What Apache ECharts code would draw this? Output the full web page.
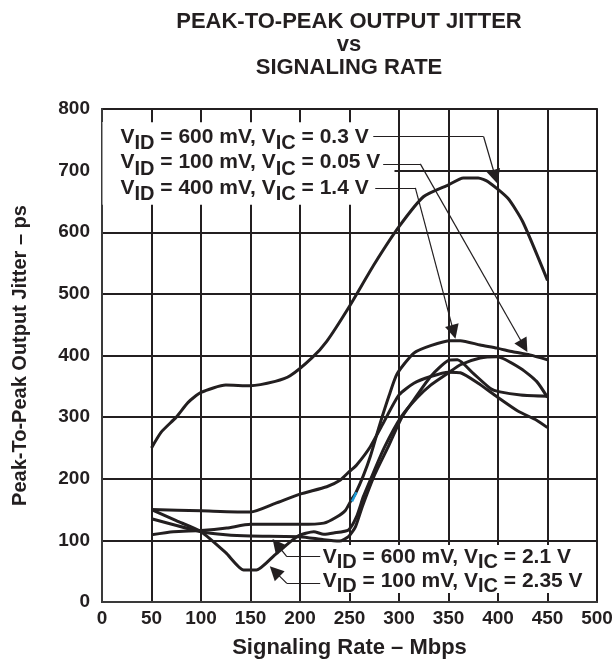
<!DOCTYPE html>
<html>
<head>
<meta charset="utf-8">
<script src="https://cdn.jsdelivr.net/npm/echarts@6/dist/echarts.min.js"></script>
<style>
html, body { margin: 0; padding: 0; background: #fff; }
#chart { width: 616px; height: 666px; }
</style>
</head>
<body>
<div id="chart"></div>
<script>
// axis ranges
const rateMin = 0, rateMax = 500, rateStep = 50;
const jitterMin = 0, jitterMax = 800, jitterStep = 100;

// curves: [Mbps, ps]
const vid600_vic03 = [[50,250],[60,276],[75,300],[87,324],[100,340],[125,352],[150,351],[175,358],[190,367],[212,396],[227,423],[250,480],[275,548],[300,609],[325,658],[350,677],[365,688],[380,688],[390,682],[410,655],[425,617],[450,522]];
const vid400_vic14 = [[50,109],[72,114],[100,116],[126,120],[150,126],[200,126],[224,128],[237,138],[246,149],[252,166],[256,176],[264,205],[271,236],[280,285],[290,335],[298,370],[315,404],[332,416],[352,424],[362,424],[382,417],[399,412],[415,406],[432,401],[450,393]];
const vid100_vic005 = [[50,150],[100,148],[150,146],[175,160],[200,175],[227,187],[240,197],[250,212],[257,222],[271,252],[284,290],[300,336],[315,355],[332,366],[350,373],[362,372],[380,355],[399,333],[420,310],[439,295],[450,283]];
const vid600_vic21 = [[50,135],[100,114],[125,109],[150,107],[200,106],[224,101],[240,99],[249,106],[256,122],[263,155],[275,205],[290,255],[303,300],[315,328],[332,366],[350,392],[359,393],[375,371],[392,347],[402,341],[423,336],[450,334]];
const vid100_vic235 = [[50,150],[75,132],[100,114],[125,80],[143,52],[156,52],[175,77],[198,107],[214,114],[224,110],[234,112],[249,117],[257,138],[264,171],[271,198],[285,250],[302,300],[318,331],[332,352],[350,372],[362,385],[382,396],[399,398],[423,379],[439,358],[450,332]];
const blueTick = [[252.5,163],[257,178]];

// annotation texts
const titleLines = ['PEAK-TO-PEAK OUTPUT JITTER', 'vs', 'SIGNALING RATE'];
const upperNotes = [['600 mV', '0.3 V'], ['100 mV', '0.05 V'], ['400 mV', '1.4 V']];
const lowerNotes = [['600 mV', '2.1 V'], ['100 mV', '2.35 V']];

// leader lines: [text end, elbow, arrow end] in data units
const leader03 = [[274, 755], [385.5, 755], [397.3, 690]];
const leader005 = [[284, 711], [321.5, 711], [426.2, 415.4]];
const leader14 = [[276, 672], [316.5, 672], [355.2, 438.3]];
const leader21 = [[220.4, 73.5], [186.7, 73.5], [176.7, 93.5]];
const leader235 = [[220.4, 30.3], [186.7, 30.3], [174.5, 49.8]];

const ink = '#231f20';
const fontFam = '"Liberation Sans", Arial, sans-serif';

const noteLine = (n) => '{m|V}{s|ID}{m| = ' + n[0] + ', V}{s|IC}{m| = ' + n[1] + '}';

const richNote = {
    m: { fontSize: 21, fontWeight: 'bold', fontFamily: fontFam, color: ink },
    s: { fontSize: 20, fontWeight: 'bold', fontFamily: fontFam, color: ink, height: 12, verticalAlign: 'bottom' }
};

const leaderSegs = (pts) => [
    [{ coord: pts[0], symbol: 'none' }, { coord: pts[1], symbol: 'none' }],
    [{ coord: pts[1], symbol: 'none' }, { coord: pts[2], symbol: 'triangle', symbolSize: 14 }]
];

const curve = (name, data) => ({
    name: name,
    type: 'line',
    data: data,
    smooth: 0.2,
    symbol: 'none',
    lineStyle: { color: ink, width: 3 },
    z: 2
});

// invisible anchor carrying a white-backed text block
const noteBox = (name, at, label) => ({
    name: name,
    type: 'scatter',
    data: [at],
    symbolSize: 1,
    itemStyle: { color: '#fff', opacity: 1 },
    silent: true,
    z: 1,
    label: Object.assign({
        show: true,
        opacity: 1,
        backgroundColor: '#fff',
        rich: richNote
    }, label)
});

var chart = echarts.init(document.getElementById('chart'));

chart.setOption({
    animation: false,
    backgroundColor: '#fff',
    textStyle: { fontFamily: fontFam },
    graphic: [{
        type: 'text',
        x: 349,
        y: 10,
        style: {
            text: titleLines.join('\n'),
            align: 'center',
            verticalAlign: 'top',
            fontSize: 22,
            fontWeight: 'bold',
            fontFamily: fontFam,
            lineHeight: 23,
            fill: ink
        }
    }],
    grid: {
        left: 102, right: 19, top: 109, bottom: 64,
        show: true, borderColor: '#3a3a3a', borderWidth: 2
    },
    xAxis: {
        type: 'value',
        min: rateMin, max: rateMax, interval: rateStep,
        name: 'Signaling Rate – Mbps',
        nameLocation: 'middle',
        nameGap: 35,
        nameTextStyle: { fontSize: 22, fontWeight: 'bold', color: ink },
        axisLine: { show: true, lineStyle: { color: '#3a3a3a', width: 2 } },
        axisTick: { show: false },
        axisLabel: { fontSize: 19, fontWeight: 'bold', color: ink, margin: 7 },
        splitLine: { show: true, lineStyle: { color: ink, width: 2 } }
    },
    yAxis: {
        type: 'value',
        min: jitterMin, max: jitterMax, interval: jitterStep,
        name: 'Peak-To-Peak Output Jitter – ps',
        nameLocation: 'middle',
        nameGap: 72,
        nameTextStyle: { fontSize: 20, fontWeight: 'bold', color: ink },
        axisLine: { show: true, lineStyle: { color: '#3a3a3a', width: 2 } },
        axisTick: { show: false },
        axisLabel: { fontSize: 19, fontWeight: 'bold', color: ink, margin: 12 },
        splitLine: { show: true, lineStyle: { color: ink, width: 2 } }
    },
    series: [
        noteBox('upper notes', [1, 777.6], {
            position: [0, 0],
            formatter: upperNotes.map(noteLine).join('\n'),
            padding: [2, 0, 4, 18],
            width: 274,
            lineHeight: 25.5
        }),
        noteBox('lower notes', [219.4, 53.6], {
            position: 'right',
            distance: 0,
            formatter: lowerNotes.map(noteLine).join('\n'),
            padding: [0, 3, 0, 3],
            lineHeight: 24
        }),
        curve('VID 600 mV, VIC 0.3 V', vid600_vic03),
        curve('VID 400 mV, VIC 1.4 V', vid400_vic14),
        curve('VID 100 mV, VIC 0.05 V', vid100_vic005),
        curve('VID 600 mV, VIC 2.1 V', vid600_vic21),
        curve('VID 100 mV, VIC 2.35 V', vid100_vic235),
        {
            name: 'blue tick',
            type: 'line',
            data: blueTick,
            symbol: 'none',
            lineStyle: { color: '#1b9ad6', width: 2.5 },
            z: 3
        },
        {
            name: 'leaders',
            type: 'line',
            data: [],
            z: 4,
            markLine: {
                silent: true,
                animation: false,
                symbol: ['none', 'none'],
                label: { show: false },
                lineStyle: { color: ink, width: 1.2, type: 'solid' },
                itemStyle: { color: ink },
                emphasis: { disabled: true },
                data: [].concat(
                    leaderSegs(leader03), leaderSegs(leader005), leaderSegs(leader14),
                    leaderSegs(leader21), leaderSegs(leader235)
                )
            }
        }
    ]
});
</script>
</body>
</html>
